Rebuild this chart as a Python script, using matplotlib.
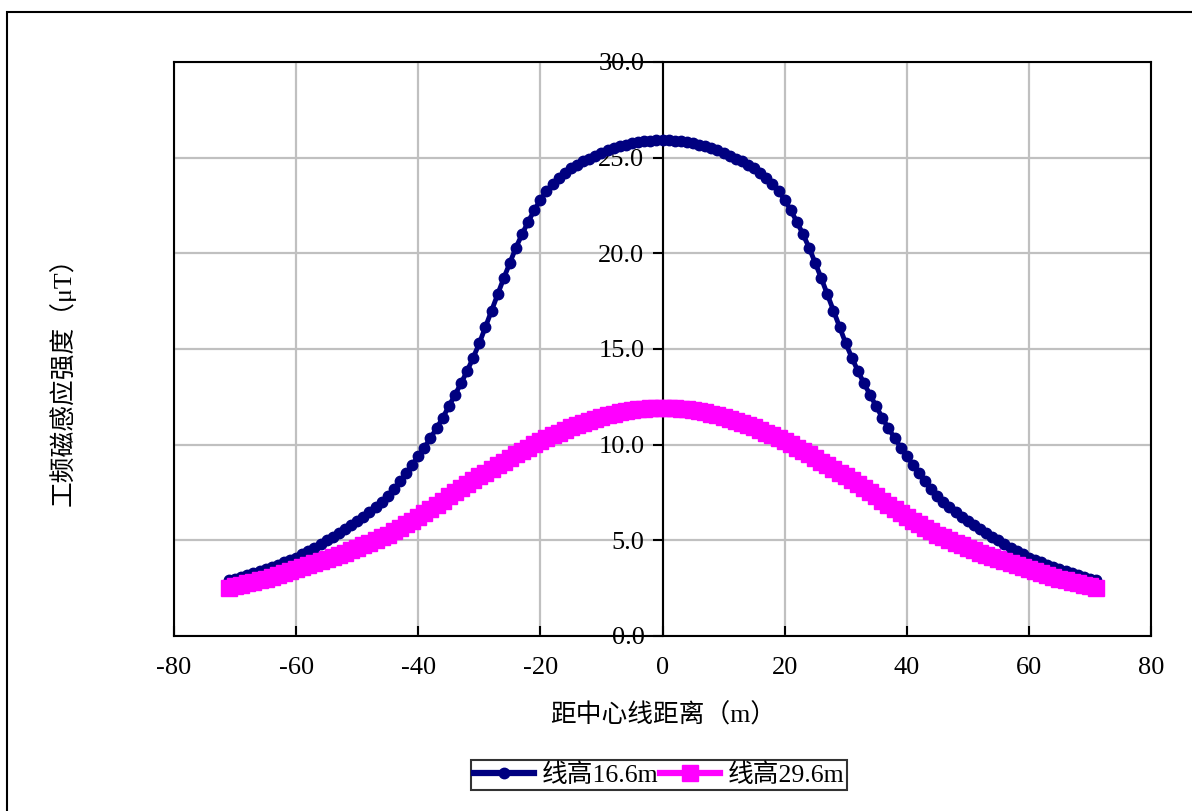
import matplotlib
matplotlib.use('Agg')
import matplotlib.pyplot as plt
from matplotlib.patches import Rectangle

# distance from centre line (m)
dist = list(range(-71, 72))

# line height 16.6 m, values read for x = 0..71 (curve is symmetric)
b_half = [25.9, 25.9, 25.88, 25.85, 25.8, 25.75, 25.68, 25.6, 25.5, 25.38,
          25.25, 25.1, 24.95, 24.8, 24.62, 24.45, 24.22, 23.95, 23.62, 23.25,
          22.8, 22.25, 21.65, 21.0, 20.3, 19.5, 18.7, 17.85, 17.0, 16.15,
          15.3, 14.55, 13.85, 13.2, 12.6, 12.0, 11.4, 10.85, 10.35, 9.85,
          9.4, 8.95, 8.5, 8.08, 7.68, 7.3, 7.0, 6.72, 6.46, 6.22,
          6.0, 5.78, 5.57, 5.37, 5.18, 5.0, 4.8, 4.62, 4.44, 4.27,
          4.1, 3.97, 3.85, 3.73, 3.61, 3.5, 3.4, 3.3, 3.2, 3.1,
          3.0, 2.92]
# line height 29.6 m
p_half = [11.9, 11.9, 11.89, 11.87, 11.84, 11.8, 11.74, 11.68, 11.6, 11.53,
          11.45, 11.35, 11.25, 11.14, 11.02, 10.9, 10.77, 10.63, 10.49, 10.35,
          10.2, 10.03, 9.85, 9.67, 9.49, 9.3, 9.11, 8.92, 8.73, 8.54,
          8.35, 8.14, 7.93, 7.72, 7.51, 7.3, 7.08, 6.86, 6.64, 6.42,
          6.2, 6.01, 5.83, 5.65, 5.47, 5.3, 5.16, 5.02, 4.88, 4.74,
          4.6, 4.48, 4.36, 4.24, 4.12, 4.0, 3.9, 3.8, 3.7, 3.6,
          3.5, 3.4, 3.3, 3.2, 3.1, 3.0, 2.92, 2.84, 2.76, 2.68,
          2.6, 2.52]

B_166 = b_half[:0:-1] + b_half
B_296 = p_half[:0:-1] + p_half

labels = ['线高16.6m', '线高29.6m']
xticks = [-80, -60, -40, -20, 0, 20, 40, 60, 80]
yticks = [0, 5, 10, 15, 20, 25, 30]

fam = ['Liberation Serif', 'Noto Sans CJK SC']
plt.rcParams['font.family'] = fam
plt.rcParams['axes.unicode_minus'] = False

fig = plt.figure(figsize=(11.92, 8.11), dpi=100)
ax = fig.add_axes([0.146, 0.2158, 0.8196, 0.7078])

ax.plot(dist, B_166, color='#000080', lw=3.5, marker='o', ms=7.5,
        label=labels[0], zorder=3)
ax.plot(dist, B_296, color='#FF00FF', lw=4, marker='s', ms=11,
        label=labels[1], zorder=4)

ax.set_xlim(-80, 80)
ax.set_ylim(0, 30)
ax.set_xticks(xticks)
ax.set_yticks(yticks)
ax.set_yticklabels(['%.1f' % v for v in yticks])
ax.grid(True, color='#C0C0C0', lw=1.6)
ax.set_axisbelow(True)

for s in ['top', 'right', 'bottom', 'left']:
    ax.spines[s].set_linewidth(1.5)
ax.spines['left'].set_position(('data', 0))
ax.axvline(-80, color='k', lw=1.5, clip_on=False, zorder=5)

ax.tick_params(axis='x', direction='in', length=7, width=1.5,
               labelsize=19, pad=15)
ax.tick_params(axis='y', direction='out', length=7, width=1.5,
               labelsize=19, pad=6)

fig.text(0.556, 0.118, '距中心线距离（m）', fontsize=18.5, ha='center',
         va='center', family=fam)
fig.text(0.052, 0.537, '工频磁感应强度（μT）', fontsize=18.5, ha='center',
         va='center', rotation=90, family=fam)

leg = fig.legend(loc='center', bbox_to_anchor=(0.553, 0.044), ncol=2,
                 fontsize=18.5, frameon=True, fancybox=False,
                 handlelength=2.3, handletextpad=0.3, columnspacing=0.1,
                 borderpad=0.12, borderaxespad=0)
leg.get_frame().set_edgecolor('k')
leg.get_frame().set_linewidth(1.5)
for ln in leg.get_lines():
    ln.set_linewidth(4.5)

fig.add_artist(Rectangle((7 / 1192, -0.1), 1.2, 1 - 12 / 811 + 0.1,
                         transform=fig.transFigure, fill=False,
                         lw=1.5, ec='k'))

fig.savefig('out.png', dpi=100)
